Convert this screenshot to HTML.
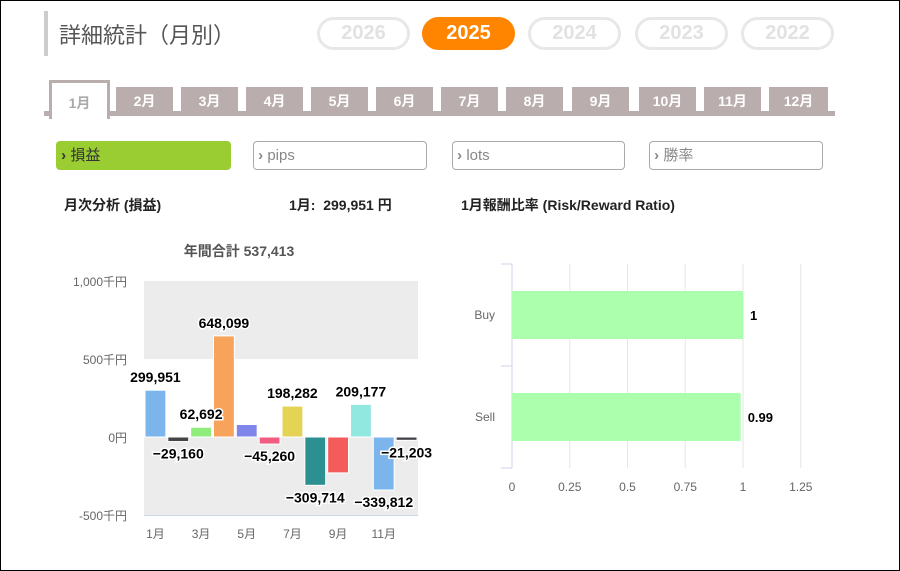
<!DOCTYPE html>
<html><head><meta charset="utf-8"><style>
body{margin:0;width:900px;height:571px;overflow:hidden;background:#fff;font-family:"Liberation Sans","Noto Sans CJK JP",sans-serif;}
#wrap{position:absolute;left:0;top:0;width:898px;height:569px;border:1px solid #000;overflow:hidden;}
.abs{position:absolute;}
.pill{position:absolute;top:16px;height:27px;width:87px;border:3px solid #e8e8e8;border-radius:17px;color:#e2e2e2;font-weight:bold;font-size:20px;text-align:center;line-height:27px;}
.tab{position:absolute;top:86px;height:24px;width:57px;background:#b9adad;color:#fff;font-weight:bold;font-size:14px;text-align:center;line-height:28px;}
.btn{position:absolute;top:140px;height:27px;border:1px solid #aaa;border-radius:4px;color:#888;font-size:15px;line-height:27px;box-sizing:content-box;}
</style></head><body>
<div id="wrap">
<div class="abs" style="left:43px;top:10px;width:4px;height:45px;background:#ccc"></div>
<div class="abs" style="left:58px;top:17px;font-size:22px;color:#555">詳細統計（月別）</div>
<div class="pill" style="left:316px">2026</div>
<div class="pill" style="left:421px;background:#ff8400;border-color:#ff8400;color:#fff">2025</div>
<div class="pill" style="left:527px">2024</div>
<div class="pill" style="left:634px">2023</div>
<div class="pill" style="left:740px">2022</div>
<div class="abs" style="left:43px;top:110px;width:791px;height:5px;background:#b9adad"></div>
<div class="abs" style="left:48px;top:79px;width:55px;height:36px;background:#fff;border:3px solid #b9adad;border-bottom:none;color:#aaa;font-weight:bold;font-size:14px;text-align:center;line-height:40px">1月</div>
<div class="tab" style="left:115px">2月</div>
<div class="tab" style="left:180px">3月</div>
<div class="tab" style="left:245px">4月</div>
<div class="tab" style="left:310px">5月</div>
<div class="tab" style="left:375px">6月</div>
<div class="tab" style="left:440px">7月</div>
<div class="tab" style="left:505px">8月</div>
<div class="tab" style="left:571px">9月</div>
<div class="tab" style="left:638px">10月</div>
<div class="tab" style="left:703px">11月</div>
<div class="tab" style="left:768px;width:59px">12月</div>
<div class="btn" style="left:55px;width:173px;background:#9acd32;border-color:#9acd32;color:#333">&nbsp;<b>›</b> 損益</div>
<div class="btn" style="left:252px;width:172px">&nbsp;<b>›</b> pips</div>
<div class="btn" style="left:451px;width:171px">&nbsp;<b>›</b> lots</div>
<div class="btn" style="left:648px;width:172px">&nbsp;<b>›</b> 勝率</div>
<div class="abs" style="left:63px;top:194px;font-size:14px;font-weight:bold;color:#222">月次分析 (損益)</div>
<div class="abs" style="left:288px;top:194px;font-size:14px;font-weight:bold;color:#222">1月:&nbsp; 299,951 円</div>
<div class="abs" style="left:460px;top:194px;font-size:14px;font-weight:bold;color:#222">1月報酬比率 (Risk/Reward Ratio)</div>
<svg class="abs" style="left:0;top:0" width="898" height="569" id="svg"></svg>
</div>
<script>
const months=["1月","2月","3月","4月","5月","6月","7月","8月","9月","10月","11月","12月"];
const profits=[299951,-29160,62692,648099,80000,-45260,198282,-309714,-230000,209177,-339812,-21203];
const profitLabels=["299,951","-29,160","62,692","648,099","","-45,260","198,282","-309,714","","209,177","-339,812","-21,203"];
const yTicks=[1000,500,0,-500];
const yTickLabels=["1,000千円","500千円","0円","-500千円"];
const colors=["#7cb5ec","#434348","#90ed7d","#f7a35c","#8085e9","#f15c80","#e4d354","#2b908f","#f45b5b","#91e8e1","#7cb5ec","#434348"];
const rrCats=["Buy","Sell"];
const rrVals=[1,0.99];
const rrLabels=["1","0.99"];
const xTicks=[0,0.25,0.5,0.75,1,1.25];
const xTickLabels=["0","0.25","0.5","0.75","1","1.25"];

const svg=document.getElementById('svg');
const NS='http://www.w3.org/2000/svg';
function mk(t,a,txt){const e=document.createElementNS(NS,t);for(const k in a)e.setAttribute(k,a[k]);if(txt!==undefined)e.textContent=txt;svg.appendChild(e);return e;}
const L=143,R=417;
const y=v=>436-v/1e6*156;
const yk=k=>436-k*0.156;
let e=mk('rect',{x:L,y:yk(1000),width:R-L,height:yk(500)-yk(1000),fill:'#ececec'});

e=mk('rect',{x:L,y:yk(0),width:R-L,height:yk(-500)-yk(0),fill:'#ececec'});

e=mk('line',{x1:L,x2:R,y1:yk(-500)+0.5,y2:yk(-500)+0.5,stroke:'#ccd6eb'});

e=mk('text',{x:238,y:255,'font-size':14,'font-weight':'bold',fill:'#555','text-anchor':'middle'},'年間合計 537,413');

yTicks.forEach((k,i)=>{const t=mk('text',{x:126,y:yk(k)+5,'font-size':12,fill:'#666','text-anchor':'end'},yTickLabels[i]);
});
const slot=(R-L)/12;
profits.forEach((v,i)=>{
 const x0=L+i*slot+1, w=slot-2;
 const top=Math.min(y(v),y(0)), h=Math.max(Math.abs(y(v)-y(0)),2);
 const b=mk('rect',{x:x0,y:top,width:w,height:h,fill:colors[i],stroke:'#fff','stroke-width':1});
 
 
 if(i%2===0){const t=mk('text',{x:x0+w/2,y:537,'font-size':12,fill:'#666','text-anchor':'middle'},months[i]);
  }
});
profits.forEach((v,i)=>{
 if(!profitLabels[i])return;
 const x0=L+i*slot+1, w=slot-2;
 const top=Math.min(y(v),y(0)), h=Math.max(Math.abs(y(v)-y(0)),2);
 const ly=v>=0?top-8:top+h+17;
 const t=mk('text',{x:x0+w/2,y:ly,'font-size':14,'font-weight':'bold',fill:'#000','text-anchor':'middle',stroke:'#fff','stroke-width':3,'paint-order':'stroke'},profitLabels[i].replace('-','−'));
 
 
});
const X=v=>511+v*231;
const T=263,B=467,bandH=(B-T)/rrCats.length;
xTicks.forEach((v,i)=>{
 const g=mk('line',{x1:X(v),x2:X(v),y1:T,y2:B,stroke:'#e6e6e6','stroke-width':1});
 
 const t=mk('text',{x:X(v),y:490,'font-size':12,fill:'#666','text-anchor':'middle'},xTickLabels[i]);
 
});
e=mk('line',{x1:511,x2:511,y1:T,y2:B,stroke:'#ccd6eb'});

[T,T+bandH,B].forEach(yy=>{const l=mk('line',{x1:500,x2:511,y1:yy,y2:yy,stroke:'#ccd6eb'});
 });
rrVals.forEach((v,i)=>{
 const cy=T+bandH*(i+0.5);
 const b=mk('rect',{x:X(0),y:cy-24,width:X(v)-X(0),height:48,fill:'#acffac'});
 
 
 const t=mk('text',{x:X(v)+7,y:cy+5,'font-size':13,'font-weight':'bold',fill:'#000'},rrLabels[i]);
 
 const c=mk('text',{x:494,y:cy+4,'font-size':12,fill:'#666','text-anchor':'end'},rrCats[i]);
 
});
</script>
</body></html>
